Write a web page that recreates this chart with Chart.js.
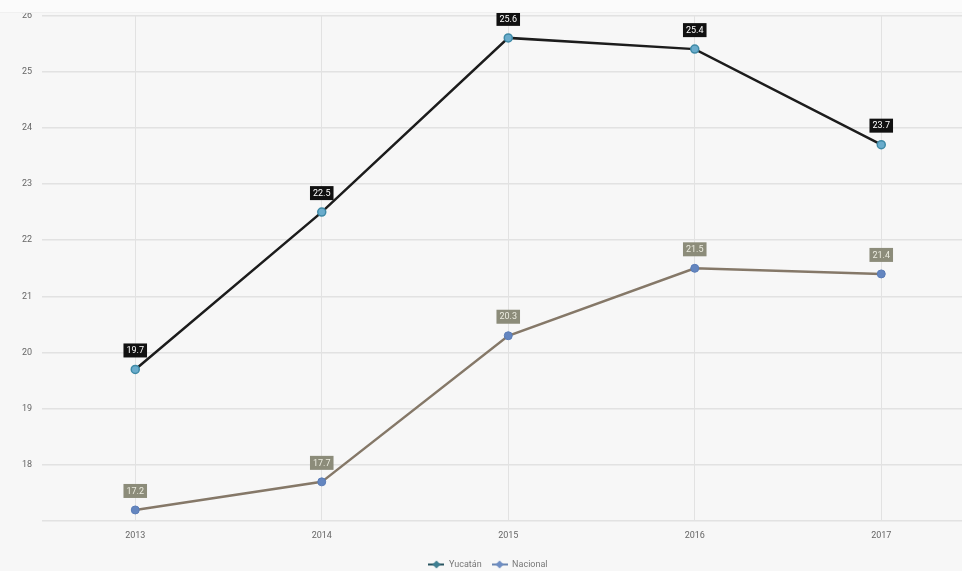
<!DOCTYPE html>
<html>
<head>
<meta charset="utf-8">
<script src="https://cdn.jsdelivr.net/npm/chart.js@4.4.1/dist/chart.umd.min.js"></script>
<style>
  html, body { margin: 0; padding: 0; background: #f7f7f7; overflow: hidden; }
  #wrap { position: absolute; left: 0; top: 0; width: 980px; height: 579px; }
  #strip { position: absolute; left: 0; top: 0; width: 100%; height: 12px; background: #fbfbfb; border-bottom: 1px solid #f0f0f0; }
</style>
</head>
<body>
<div id="wrap"><canvas id="lineChart"></canvas></div>
<div id="strip"></div>
<script>
// data
const years = ['2013', '2014', '2015', '2016', '2017'];
const yucatan = [19.7, 22.5, 25.6, 25.4, 23.7];
const nacional = [17.2, 17.7, 20.3, 21.5, 21.4];
const yMin = 17;
const yMax = 26;

// legend marker: short line with a diamond in the middle
function legendMarker(lineCol, fillCol) {
  const c = document.createElement('canvas');
  c.width = 16;
  c.height = 9;
  const g = c.getContext('2d');
  g.strokeStyle = lineCol;
  g.lineWidth = 2;
  g.beginPath();
  g.moveTo(0, 4.5);
  g.lineTo(16, 4.5);
  g.stroke();
  g.fillStyle = fillCol;
  g.beginPath();
  g.moveTo(8, 0.5);
  g.lineTo(12, 4.5);
  g.lineTo(8, 8.5);
  g.lineTo(4, 4.5);
  g.closePath();
  g.fill();
  return c;
}
const markers = [legendMarker('#2a5560', '#3f7f92'), legendMarker('#6a86b0', '#6f8fc4')];

// small boxes with the value above every point
const valueBoxes = {
  id: 'valueBoxes',
  afterDatasetsDraw(chart) {
    const ctx = chart.ctx;
    ctx.save();
    ctx.font = '9px Roboto, sans-serif';
    ctx.textAlign = 'center';
    ctx.textBaseline = 'middle';
    chart.data.datasets.forEach((ds, i) => {
      const meta = chart.getDatasetMeta(i);
      meta.data.forEach((pt, j) => {
        const txt = ds.data[j].toFixed(1);
        const w = ctx.measureText(txt).width + 6;
        const h = 14;
        const cy = pt.y - 19;
        ctx.fillStyle = ds.boxColor;
        ctx.fillRect(pt.x - w / 2, cy - h / 2, w, h);
        ctx.fillStyle = ds.boxText;
        ctx.fillText(txt, pt.x, cy + 0.5);
      });
    });
    ctx.restore();
  }
};

const ctx = document.getElementById('lineChart');
new Chart(ctx, {
  type: 'line',
  data: {
    labels: years,
    datasets: [{
      label: 'Yucatán',
      data: yucatan,
      borderColor: '#1c1c1c',
      borderWidth: 2.5,
      pointBackgroundColor: '#6aaccc',
      pointBorderColor: '#3f8aa6',
      pointBorderWidth: 1.5,
      pointRadius: 4,
      tension: 0,
      boxColor: '#111111',
      boxText: '#ffffff'
    }, {
      label: 'Nacional',
      data: nacional,
      borderColor: '#857868',
      borderWidth: 2.5,
      pointBackgroundColor: '#6486c0',
      pointBorderColor: '#5a7cb6',
      pointBorderWidth: 1,
      pointRadius: 4,
      tension: 0,
      boxColor: '#8c8c7a',
      boxText: '#ecece0'
    }]
  },
  options: {
    responsive: true,
    maintainAspectRatio: false,
    animation: false,
    layout: {
      padding: { top: 6, right: 4, left: 0, bottom: 0 }
    },
    plugins: {
      legend: {
        display: true,
        position: 'bottom',
        labels: {
          usePointStyle: true,
          pointStyleWidth: 16,
          boxHeight: 9,
          padding: 10,
          color: '#777',
          font: { family: 'Roboto, sans-serif', size: 9 },
          generateLabels(chart) {
            return chart.data.datasets.map((ds, i) => ({
              text: ds.label,
              fillStyle: '#777',
              strokeStyle: '#777',
              lineWidth: 0,
              pointStyle: markers[i],
              fontColor: '#777',
              datasetIndex: i
            }));
          }
        }
      },
      tooltip: { enabled: false }
    },
    scales: {
      x: {
        offset: true,
        grid: { offset: false, color: '#e2e2e2', lineWidth: 1, drawTicks: false },
        border: { display: false },
        ticks: {
          color: '#666',
          padding: 9,
          font: { family: 'Roboto, sans-serif', size: 9 }
        }
      },
      y: {
        min: yMin,
        max: yMax,
        afterFit(scale) { scale.width = 42; },
        grid: { color: '#e2e2e2', lineWidth: 1.5, drawTicks: false },
        border: { display: false },
        ticks: {
          stepSize: 1,
          padding: 10,
          color: '#666',
          font: { family: 'Roboto, sans-serif', size: 9 },
          callback: function(v) { return v === yMin ? '' : v; }
        }
      }
    }
  },
  plugins: [valueBoxes]
});
</script>
</body>
</html>
